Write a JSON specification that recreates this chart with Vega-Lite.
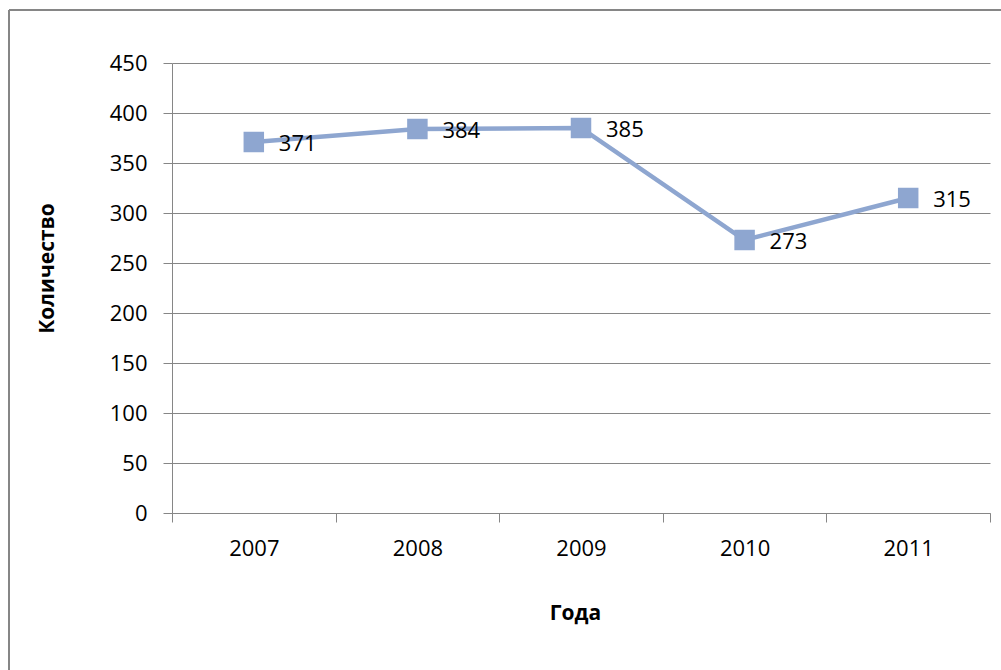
{
  "$schema": "https://vega.github.io/schema/vega-lite/v6.json",
  "width": 992,
  "height": 660,
  "autosize": {"type": "none"},
  "padding": {"left": 9, "top": 10, "right": 0, "bottom": 0},
  "background": "white",
  "config": {
    "font": "Open Sans",
    "view": {"stroke": "#868686", "strokeWidth": 2, "strokeDash": [992, 1652, 660, 0]}
  },
  "data": {
    "values": [
      {"year": "2007", "count": 371},
      {"year": "2008", "count": 384},
      {"year": "2009", "count": 385},
      {"year": "2010", "count": 273},
      {"year": "2011", "count": 315}
    ]
  },
  "encoding": {
    "x": {
      "field": "year",
      "type": "ordinal",
      "scale": {"type": "band", "range": [163, 981], "paddingInner": 0, "paddingOuter": 0},
      "axis": {
        "title": "Года",
        "offset": -157,
        "tickBand": "extent",
        "labelAngle": 0,
        "grid": false,
        "domainColor": "#868686",
        "tickColor": "#868686",
        "tickSize": 9,
        "labelFontSize": 22,
        "labelColor": "#000000",
        "labelPadding": 16,
        "titleFontSize": 21,
        "titleFontWeight": "bold",
        "titleColor": "#000000",
        "titleBaseline": "middle",
        "titleX": 566,
        "titleY": 100
      }
    },
    "y": {
      "field": "count",
      "type": "quantitative",
      "scale": {"domain": [0, 450], "range": [503, 53], "nice": false},
      "axis": {
        "title": "Количество",
        "offset": -163,
        "values": [0, 50, 100, 150, 200, 250, 300, 350, 400, 450],
        "grid": true,
        "gridColor": "#868686",
        "gridOpacity": 1,
        "domainColor": "#868686",
        "tickColor": "#868686",
        "tickSize": 9,
        "labelFontSize": 22,
        "labelColor": "#000000",
        "labelPadding": 16,
        "titleFontSize": 21,
        "titleFontWeight": "bold",
        "titleColor": "#000000",
        "titleBaseline": "middle",
        "titleX": -125,
        "titleY": 258
      }
    }
  },
  "layer": [
    {"mark": {"type": "line", "color": "#8EA6D0", "strokeWidth": 4.5}},
    {"mark": {"type": "point", "shape": "square", "filled": true, "size": 420, "color": "#8EA6D0", "opacity": 1}},
    {
      "mark": {"type": "text", "align": "left", "baseline": "middle", "dx": 25, "dy": 2, "fontSize": 22, "color": "#000000"},
      "encoding": {"text": {"field": "count", "type": "quantitative"}}
    }
  ]
}
